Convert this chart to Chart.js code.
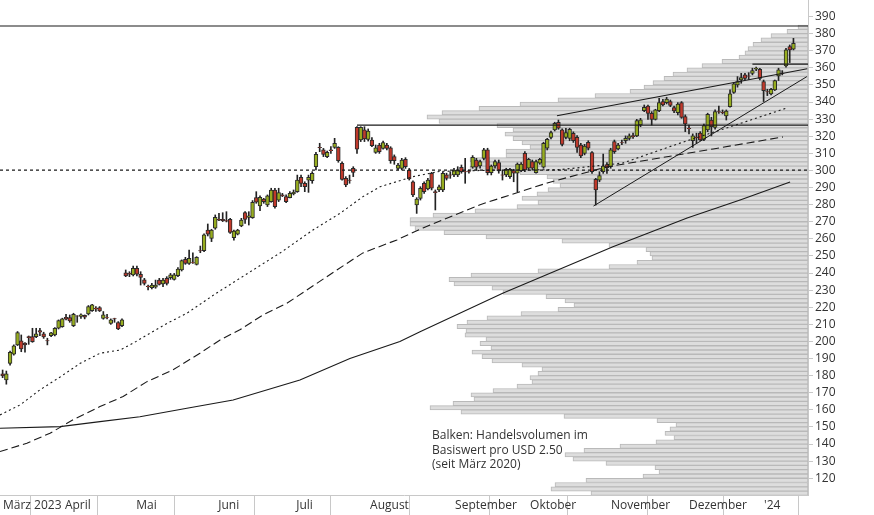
<!DOCTYPE html>
<html><head><meta charset="utf-8">
<script src="https://cdn.jsdelivr.net/npm/chart.js@4/dist/chart.umd.min.js"></script>
<style>
html,body{margin:0;padding:0;background:#fff;width:874px;height:515px;overflow:hidden;font-family:"Open Sans",sans-serif}
#vol{position:absolute;left:0;top:0}
#main{position:absolute;left:0;top:0}
#note{position:absolute;left:432px;top:428px;font:12px "Open Sans",sans-serif;color:#333;line-height:14.5px}
</style></head><body>
<canvas id="vol" width="808" height="495"></canvas>
<canvas id="main" width="874" height="515"></canvas>
<div id="note">Balken: Handelsvolumen im<br>Basiswert pro USD 2.50<br>(seit März 2020)</div>
<script>
// price bins (lower bound, USD 2.50) and relative volume
const binLow = [382.5,380,377.5,375,372.5,370,367.5,365,362.5,360,357.5,355,352.5,350,347.5,345,342.5,340,337.5,335,332.5,330,327.5,325,322.5,320,317.5,315,312.5,310,307.5,305,302.5,300,297.5,295,292.5,290,287.5,285,282.5,280,277.5,275,272.5,270,267.5,265,262.5,260,257.5,255,252.5,250,247.5,245,242.5,240,237.5,235,232.5,230,227.5,225,222.5,220,217.5,215,212.5,210,207.5,205,202.5,200,197.5,195,192.5,190,187.5,185,182.5,180,177.5,175,172.5,170,167.5,165,162.5,160,157.5,155,152.5,150,147.5,145,142.5,140,137.5,135,132.5,130,127.5,125,122.5,120,117.5,115,112.5,110];
const binVol = [10,21,37,47,55,60,63,69,86,106,121,135,144,155,164,178,213,250,288,329,366,381,369,311,295,303,295,286,278,302,302,338,331,338,288,261,255,248,260,271,286,270,291,333,375,398,398,393,364,322,246,199,162,158,156,171,199,270,337,359,354,316,305,262,243,234,250,287,321,341,351,342,343,322,328,317,336,326,316,286,266,270,278,276,291,315,337,334,355,378,347,244,151,132,138,143,134,152,188,224,243,235,202,153,149,165,222,253,257,217];

// daily candles (trading-day index 0..212)
const open = [181,177.5,187.2,192.5,198,200.3,199,202.8,202.8,202.8,206.3,204.4,200.5,203.4,203.8,207.7,208.7,214.1,213.9,209.3,215,214.7,215.3,216.1,218,219.4,219.8,213.5,214.1,210.6,213.4,211,209.3,
240.2,239.8,238.9,242.8,239.3,236,232.4,231.5,231.7,235.9,233.6,236.9,237.3,236.3,238.5,241.8,248,245.7,246.3,245.1,253.1,253.1,265.2,260.3,266.2,271.4,271.4,270.7,271.4,260.7,262.7,267.5,275.3,272.6,272.4,284.1,279.2,283.3,279.8,281.8,288.6,282.7,285.7,
284.7,284.1,286.4,287.6,296,292.5,294.4,294,302.2,313.5,312,308,312,313.5,313.5,304.2,295.4,294.4,301.2,325.2,317.8,323.7,318.2,317.8,310.6,314.9,312.9,314.9,313.3,308.1,301.2,301.2,306.5,300.3,293.4,279.8,283.7,292.5,289.2,298.3,287.6,288.6,
288.6,297.4,297.4,297.4,297.4,301.9,299.4,299.4,301.9,306.1,302.6,307.1,312,298.7,302.6,304.6,297.4,297.4,296.4,299.9,298.4,299.9,310,301.3,305.2,298.7,304.2,301.9,313,319.4,323.7,328.2,323.7,319.4,318.8,321.7,319.4,314.9,310,316.5,
310.5,294.8,294.4,299.3,303.4,302.2,316.9,312.6,316.3,317.5,318.8,320.4,320.2,326.6,335,337.7,333.4,329.9,335,340.3,339.7,340.3,336.8,333.8,339.7,331.5,324.7,317.5,319.4,321.8,318.2,323.7,329.5,325.2,334.4,334,331.9,337.3,345.7,350,352.9,355.9,355.3,356.8,359.2,359.2,352,346.1,344.8,347.1,355.3,356.9,361.1,372.4,370.9];
const high = [183.3,182.7,194.4,198,205.8,203.8,199.3,203.2,207.7,207.7,207.7,205.4,201.9,205.4,208.1,212.6,213.6,215.9,215.5,216.5,215.1,216.1,215.5,221,221.7,220.4,220.4,217.5,215.9,213.2,213.6,211.6,213.2,
241.8,240.8,244.1,244.1,240.8,236.9,233,234,235.9,236.9,236.9,237.9,239.8,239.8,243.2,247.7,249.2,253.5,251.9,249.6,255.8,262.9,268.7,265.6,274,275,275.3,275.9,272,265.2,265.6,272,275.9,275.9,282.4,287.6,285.1,283.7,285.7,289.6,289.6,289.6,286.6,
285.7,287.6,288.6,297.3,297.3,293.4,297.3,299.3,310.6,315.9,312.9,311.4,313.9,318.8,313.9,305.1,296.4,297.3,302.2,325.6,325.6,325.6,324.3,319.2,314.9,315.9,317.2,315.9,313.9,309.1,304.2,307.1,307.5,301.2,294,284.1,290.5,293.4,295.4,298.9,288.6,291.5,
299.3,298.4,299.3,301.3,302.2,303.2,307.1,300.3,308.7,307.1,306.1,313,313,303.2,306.1,306.1,300.3,301.3,301.3,300.7,304.4,304.6,311,307.1,306.1,306.1,307.1,316.5,318.8,323.1,328.2,329.5,324.3,324.7,324.7,322.6,320.4,315.9,315.3,317.4,
311,295.4,299.3,309.6,304.6,313,317.8,315.9,317.8,320.2,321.4,321.8,329.9,330.5,338.3,338.3,334.4,335.8,342.2,341.6,342.8,341.2,337.7,339.7,340.3,332.5,326.6,321.4,321.8,322.7,327.2,333.5,331.1,335.4,337.7,335.4,335.4,347.1,351.4,354.9,356.8,356.8,357.2,359.8,360.4,359.8,352.9,347.5,348.1,352.9,359.8,358.4,371.5,373.4,377.3];
const low = [178.8,175,186.2,192,197.6,194,193.7,198.3,199.5,202.2,203.4,201.8,198,202.8,203.2,207.3,208.3,212.6,211.2,208.7,211.2,213.5,213.2,215.5,217.5,217.5,217.5,213,213.2,210,211.2,206.9,208.7,
237.9,237.9,238.3,238.3,233,233,230.1,230.7,231.1,233,232.1,233,236.3,235.9,237.9,241.2,245.1,245.1,245.7,244.7,251.9,252.5,261.7,258.4,265.6,270.7,270.1,269.9,263.2,259.3,262.3,267.1,269.1,268.1,272,280.8,276.5,280.8,278.9,281.4,277.9,281.8,284.7,
281.2,284,285.7,287.2,290.5,287.6,287.2,292.5,300.3,311,308.1,307.5,310,312.9,304.8,294.4,290.5,292.5,296.4,310,316.9,316.9,317.2,313.9,310,310,312.5,312,304.2,303.6,300.3,300.3,301.2,294.4,284.7,274.9,282.7,286.6,288.6,288.6,276.9,287.6,
287.6,294.4,295.4,296.4,296.4,298.4,292.5,298.4,301.3,300.3,301.3,306.1,297.4,297.4,301.3,298.4,294.4,296.4,295.4,293.4,287.6,299.3,299.3,300.7,300.3,298.4,303.6,301.3,312,318.4,323.1,324.1,314.4,318.4,317.4,316.4,310.6,307.5,309.1,312,
298.3,279.8,293.4,298.3,298.3,301.3,310,312,315.1,315.9,317.8,318.8,319.8,325.6,334.4,329.9,326.6,329.5,334.4,337.7,338.9,337.3,333.8,332.5,330.5,322.7,321.4,313.5,315.9,317.5,317.5,322.7,320.2,324.1,333.4,333.1,329.5,337,345.1,348.7,351,352.9,353.3,355.9,358.4,352.9,340.3,343.8,344.2,346.7,352.6,355.9,360.4,363.1,370.5];
const close = [179.8,181,193.7,197.4,205.2,195.6,198,202.2,199.9,204.4,205.4,202.6,200.3,205,207.7,212.2,213.2,213.1,212,215.9,214.8,215.5,214.2,220.4,221.4,219,217.8,215.5,214,212.6,213.2,207.3,212.6,
238.3,239.3,242.8,239.3,237.5,234,232.1,233,233,233.4,235.9,234,238.9,238.9,242.4,247.3,245.7,248.6,246.2,249.2,252.9,262.3,262.7,265.2,272.6,271,270.7,270.3,263.8,264.6,265.2,271,271.4,273.4,281.4,281.4,284.3,281.8,285.1,288.6,278.9,287,285.3,
281.8,286.6,287.2,294.4,292.5,290.5,296,298.3,309.4,313.4,309.4,310.6,311.6,315.9,305.7,294.8,291.5,294.2,298.9,312.4,325.2,318.4,323.1,314.5,313.3,311,316.3,312.9,305.7,305.7,303.2,306.1,302.2,295,285.7,283.3,289.6,287.6,294.4,289.6,287,290.5,
298.4,295.4,297.2,300.3,300.3,299.3,299.2,299.2,307.7,301.9,305.2,312,298.7,302.6,305.2,299.7,297.2,300.7,300.7,298.4,303.8,303.8,300.3,306.5,301.3,305.2,306.5,315.9,318.2,322.1,327.6,324.7,315.3,322.1,324.1,317.4,313.5,308.5,314.3,313,
299.3,288.6,297,302.6,301.5,312,311,314.9,316.1,318.8,320.2,319.8,329.2,329.6,336.9,333.4,329.9,335.4,339.7,338.3,341.8,338,334.8,338.9,331.1,327.2,324.5,320.2,319.2,317.8,326.2,332.9,325.6,334.4,334.2,333.8,334.8,344.8,350.6,352,354.3,353.9,355.1,358.4,359.8,353.9,346.7,345.9,347.5,352.6,358.8,356.8,370.5,370.5,374.4];

// moving averages: [day index, price]
const ma38 = [[-0.7,157],[4.7,162.9],[10,171.7],[15.4,179.2],[20.8,187.2],[26.1,193.1],[31.5,195],[35,199],[39.5,204.8],[44.1,210.6],[49.4,216.5],[57,227.8],[74.9,252.5],[83.2,265.2],[90.5,275],[96.6,284.7],[101.2,290.5],[110,296.4],[117.3,299.5],[133.4,300.2],[149.4,300.5],[162,303.3],[166.3,304.4],[181.6,316],[195,325.5],[210.3,336.6]];
const ma100 = [[-0.7,135.6],[6.5,140.5],[12.7,146.3],[18.9,154.2],[26.1,161.9],[32.3,167.8],[38.7,176.5],[45.7,183.4],[52.9,193.1],[58.3,200.9],[63.6,206.8],[69.8,215.5],[76.2,222.3],[89.6,241.8],[96.6,251.8],[105.7,259.4],[112.7,266.4],[128,280],[146,292.7],[162,302.1],[190.5,312.6],[209.2,319.6]];
const ma200 = [[-0.7,149.2],[15.4,150.2],[26.1,153.1],[36.8,156],[49.4,160.9],[61.8,165.8],[79.7,177.5],[93.1,190],[106.5,200],[111.9,205.7],[134.2,228.4],[163.6,255.4],[183.5,272.2],[197.7,282.7],[211.1,293.3]];
// horizontal and trend lines: [[x1,y1],[x2,y2]]
const lineTop = [[-0.7,384.5],[216,384.5]];
const line300 = [[-0.7,300.2],[216,300.2]];
const line326 = [[95,326.5],[216,326.5]];
const line362 = [[201,362.2],[216,362.2]];
const trendUp = [[148.6,332],[215.7,359.5]];
const trendLow = [[158.4,279.2],[215.6,354.9]];
// x tick positions (month starts) and labels
const monthPos = [-0.7,15.9,35,57,77.9,97.7,120.5,140.6,162.3,183.2,203.3];
const monthLbl = ["März 2023","April","Mai","Juni","Juli","August","September","Oktober","November","Dezember","'24"];
const yTicks = [120,130,140,150,160,170,180,190,200,210,220,230,240,250,260,270,280,290,300,310,320,330,340,350,360,370,380,390];

const YMIN=110.2, YMAX=399.7, XMIN=-0.7, XMAX=215.9;

new Chart(document.getElementById('vol'),{
  type:'bar',
  data:{datasets:[{data:binLow.map((b,i)=>({x:binVol[i],y:b+1.25})),backgroundColor:'#dddddd',borderColor:'#b9b9b9',borderWidth:1,borderSkipped:false,barThickness:4.3}]},
  options:{indexAxis:'y',responsive:false,animation:false,devicePixelRatio:1,
    plugins:{legend:{display:false},tooltip:{enabled:false}},layout:{padding:0},
    scales:{y:{type:'linear',min:YMIN,max:YMAX,offset:false,display:false},x:{type:'linear',min:0,max:808,reverse:true,display:false}}}
});

const up='#97ad1f', dn='#c0392b';
const toPts=a=>a.map(p=>({x:p[0],y:p[1]}));
const ln=(a,extra)=>Object.assign({type:'line',data:toPts(a),borderColor:'#1a1a1a',borderWidth:1.1,pointRadius:0,fill:false,tension:0,order:1},extra||{});

new Chart(document.getElementById('main'),{
  type:'bar',
  data:{datasets:[
    {data:low.map((l,i)=>({x:i,y:[l,high[i]]})),backgroundColor:'#222',barThickness:1,grouped:false,order:3},
    {data:open.map((o,i)=>({x:i,y:[o,close[i]]})),backgroundColor:open.map((o,i)=>close[i]>=o?up:dn),borderColor:'#2a2a2a',borderWidth:1,borderSkipped:false,barThickness:3.8,grouped:false,order:2},
    ln(ma38,{borderDash:[2,3]}),
    ln(ma100,{borderDash:[8,4]}),
    ln(ma200,{}),
    ln(lineTop,{}),
    ln(line300,{borderDash:[3,3]}),
    ln(line326,{}),
    ln(line362,{}),
    ln(trendUp,{}),
    ln(trendLow,{borderWidth:1})
  ]},
  options:{responsive:false,animation:false,devicePixelRatio:1,layout:{padding:0},
    plugins:{legend:{display:false},tooltip:{enabled:false}},
    scales:{
      x:{type:'linear',min:XMIN,max:XMAX,offset:false,
        afterBuildTicks:s=>{s.ticks=monthPos.map(v=>({value:v}));},
        afterFit:s=>{s.height=20;s.paddingLeft=0;s.paddingRight=0;},
        grid:{drawOnChartArea:false,tickLength:20,color:'#c8c8c8'},
        border:{display:true,color:'#c8c8c8'},
        ticks:{autoSkip:false,maxRotation:0,align:'start',padding:-17,labelOffset:3,color:'#333',font:{family:'Open Sans',size:12},
          callback:(v,i)=>monthLbl[i]}},
      y:{type:'linear',position:'right',min:YMIN,max:YMAX,
        afterBuildTicks:s=>{s.ticks=yTicks.map(v=>({value:v}));},
        afterFit:s=>{s.width=66;s.paddingTop=0;s.paddingBottom=0;},
        grid:{drawOnChartArea:false,tickLength:5,color:'#c8c8c8'},
        border:{display:true,color:'#c8c8c8'},
        ticks:{padding:2,color:'#333',font:{family:'Open Sans',size:12}}}
    }}
});
</script>
</body></html>
